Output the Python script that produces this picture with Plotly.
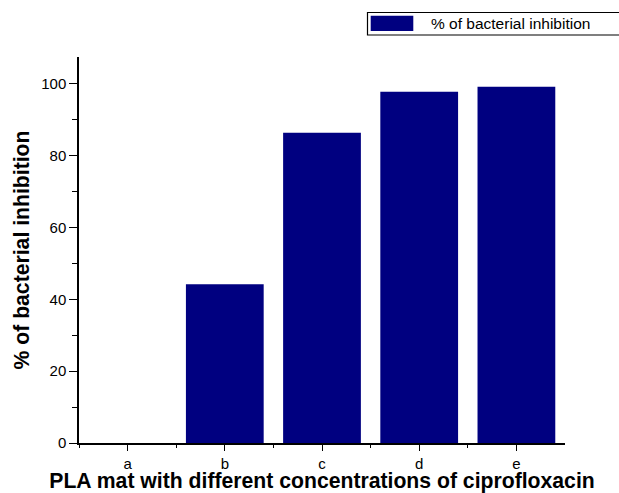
import plotly.graph_objects as go

categories = ["a", "b", "c", "d", "e"]
inhibition = [0, 44.2, 86.4, 97.8, 99.2]
series_name = "% of bacterial inhibition"
y_ticks = [0, 20, 40, 60, 80, 100]

x_pos = list(range(len(categories)))

fig = go.Figure()
fig.add_trace(go.Bar(
    x=x_pos, y=inhibition, name=series_name, width=0.8,
    marker=dict(color="#000080", line=dict(width=0)),
    showlegend=False,
))

font_family = "Liberation Sans, Arial, sans-serif"

fig.update_layout(
    width=619, height=493,
    margin=dict(l=79, r=54, t=57, b=50, autoexpand=False),
    paper_bgcolor="white", plot_bgcolor="white",
    font=dict(family=font_family, size=15, color="black"),
    bargap=0.2,
    xaxis=dict(
        range=[-0.5, 4.5], tickvals=x_pos, ticktext=categories,
        showgrid=False, zeroline=False,
        showline=True, linecolor="black", linewidth=1.5,
        ticks="outside", ticklen=6, tickwidth=1.2, tickcolor="black",
        minor=dict(tickvals=[-0.5, 0.5, 1.5, 2.5, 3.5], ticks="outside", ticklen=3,
                   tickwidth=1.2, tickcolor="black", showgrid=False),
        tickfont=dict(size=15),
        title=dict(text="<b>PLA mat with different concentrations of ciprofloxacin</b>",
                   font=dict(size=21.2), standoff=4),
        automargin=False,
    ),
    yaxis=dict(
        range=[0, 107.5], tickvals=y_ticks,
        showgrid=False, zeroline=False,
        showline=True, linecolor="black", linewidth=1.5,
        ticks="outside", ticklen=8, tickwidth=1.2, tickcolor="black",
        minor=dict(dtick=10, tick0=0, ticks="outside", ticklen=5,
                   tickwidth=1.2, tickcolor="black", showgrid=False),
        tickfont=dict(size=15),
        title=dict(text="<b>" + series_name + "</b>", font=dict(size=21.2), standoff=6),
        automargin=False,
    ),
)

# legend box (drawn manually to match the wide swatch)
fig.add_shape(type="rect", xref="paper", yref="paper",
              x0=(367.5 - 79) / 486, x1=(625 - 79) / 486,
              y0=(443 - 35) / 386, y1=(443 - 12.5) / 386,
              line=dict(color="black", width=1.2), fillcolor="white", layer="above")
fig.add_shape(type="rect", xref="paper", yref="paper",
              x0=(370.7 - 79) / 486, x1=(413.3 - 79) / 486,
              y0=(443 - 31) / 386, y1=(443 - 15.7) / 386,
              line=dict(width=0), fillcolor="#000080", layer="above")
fig.add_annotation(xref="paper", yref="paper",
                   x=(429 - 79) / 486, y=(443 - 23.5) / 386,
                   xanchor="left", yanchor="middle", showarrow=False,
                   text=series_name, font=dict(size=15.5, color="black"))

fig.write_html("out.html", config={"displayModeBar": False},
               post_script="document.body.style.margin='0';document.body.style.overflow='hidden';")
